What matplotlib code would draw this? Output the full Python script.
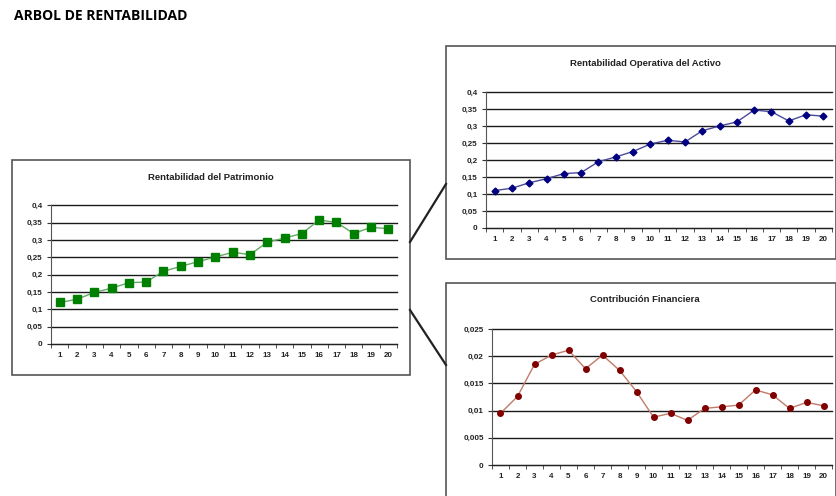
import matplotlib.pyplot as plt
import numpy as np
from matplotlib.patches import Rectangle
from matplotlib.lines import Line2D
from matplotlib.ticker import FuncFormatter, MultipleLocator

# datos
periodos = list(range(1, 21))
roe = [0.120, 0.129, 0.149, 0.161, 0.177, 0.179, 0.210, 0.224, 0.238, 0.251,
       0.265, 0.258, 0.294, 0.306, 0.319, 0.358, 0.351, 0.319, 0.337, 0.333]
roa = [0.110, 0.117, 0.133, 0.145, 0.160, 0.163, 0.195, 0.209, 0.225, 0.247,
       0.258, 0.253, 0.286, 0.300, 0.312, 0.347, 0.342, 0.315, 0.333, 0.329]
contrib = [0.0095, 0.0126, 0.0185, 0.0202, 0.0211, 0.0177, 0.0202, 0.0174, 0.0135, 0.0088,
           0.0095, 0.0082, 0.0104, 0.0107, 0.0110, 0.0138, 0.0129, 0.0104, 0.0115, 0.0109]

W, H = 836, 496
plt.rcParams['font.family'] = ['Liberation Sans', 'DejaVu Sans']

fig = plt.figure(figsize=(W / 100, H / 100), dpi=100)
fig.patch.set_facecolor('white')


def px_rect(x0, y0, x1, y1):
    return [x0 / W, 1 - y1 / H, (x1 - x0) / W, (y1 - y0) / H]


def caja(x0, y0, x1, y1):
    r = Rectangle((x0 / W, 1 - y1 / H), (x1 - x0) / W, (y1 - y0) / H,
                  transform=fig.transFigure, fill=False, edgecolor='#555555', lw=1.2)
    fig.add_artist(r)


def coma(v, pos):
    s = ('%g' % round(v, 4))
    return s.replace('.', ',')


def grafico(rect, y, ymax, paso, marker, ms, mcolor, lcolor, titulo, tx, ty):
    ax = fig.add_axes(px_rect(*rect))
    ax.plot(periodos, y, color=lcolor, lw=1.0, marker=marker, markersize=ms,
            markerfacecolor=mcolor, markeredgecolor=mcolor, zorder=3)
    ax.set_xlim(0.5, 20.5)
    ax.set_ylim(0, ymax)
    ax.yaxis.set_major_locator(MultipleLocator(paso))
    ax.yaxis.set_major_formatter(FuncFormatter(coma))
    ax.set_xticks(periodos)
    ax.set_xticks(np.arange(0.5, 21, 1), minor=True)
    ax.tick_params(axis='x', which='major', length=0, pad=6)
    ax.tick_params(axis='x', which='minor', length=3, direction='out', color='#333333')
    ax.tick_params(axis='y', length=3, direction='out', color='#333333', pad=3)
    ax.tick_params(labelsize=5.8)
    for lab in ax.get_xticklabels() + ax.get_yticklabels():
        lab.set_fontweight('bold')
        lab.set_color('#222222')
    ax.grid(axis='y', color='#1a1a1a', lw=1.0)
    for gl in ax.get_ygridlines():
        gl.set_clip_on(False)
    ax.set_axisbelow(True)
    for s in ['top', 'right']:
        ax.spines[s].set_visible(False)
    ax.spines['left'].set_color('#555555')
    ax.spines['bottom'].set_color('#222222')
    fig.text(tx / W, 1 - ty / H, titulo, ha='center', va='center',
             fontsize=6.8, fontweight='bold', color='#222222')
    return ax


# cajas de los graficos
caja(12, 160, 410, 375)
caja(446, 46, 836, 259)
caja(446, 283, 836, 500)

# lineas del arbol
fig.add_artist(Line2D([410 / W, 446 / W], [1 - 242 / H, 1 - 184 / H],
                      transform=fig.transFigure, color='#222222', lw=1.6))
fig.add_artist(Line2D([410 / W, 446 / W], [1 - 310 / H, 1 - 365 / H],
                      transform=fig.transFigure, color='#222222', lw=1.6))

grafico((51, 205.5, 397, 344), roe, 0.4, 0.05, 's', 5.3, '#008000', '#66a866',
        'Rentabilidad del Patrimonio', 211, 178)
grafico((486, 92, 832, 228), roa, 0.4, 0.05, 'D', 3.5, '#000080', '#4a4a9a',
        'Rentabilidad Operativa del Activo', 645, 63)
grafico((492, 329, 832, 465), contrib, 0.025, 0.005, 'o', 4, '#800000', '#c07a6a',
        'Contribución Financiera', 645, 300)

fig.text(14 / W, 1 - 16 / H, 'ARBOL DE RENTABILIDAD', ha='left', va='center',
         fontsize=10, fontweight='bold', family=['Open Sans', 'DejaVu Sans'])

fig.savefig('out.png', dpi=100)
